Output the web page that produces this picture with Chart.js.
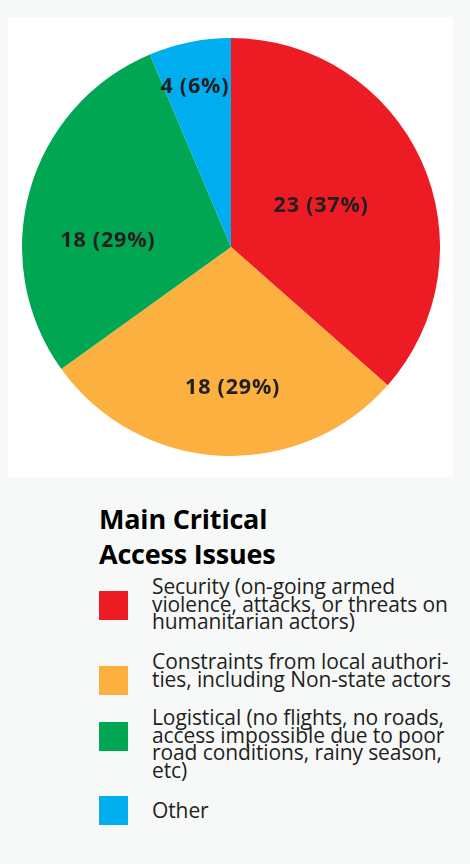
<!DOCTYPE html>
<html>
<head>
<meta charset="utf-8">
<script src="https://cdn.jsdelivr.net/npm/chart.js@4/dist/chart.umd.min.js"></script>
<style>
  html, body { margin: 0; padding: 0; }
  body { width: 470px; height: 864px; background: #f7f9f8; position: relative; overflow: hidden; font-family: "Open Sans", sans-serif; }
  #panel { position: absolute; left: 8px; top: 17px; width: 445px; height: 460px; background: #ffffff; }
  #chart { position: absolute; left: 22px; top: 38px; }
  #legendTitle { position: absolute; left: 99px; top: 501px; font-weight: bold; font-size: 27px; line-height: 35px; color: #000; letter-spacing: -0.2px; white-space: pre; }
  .item { position: absolute; left: 99px; }
  .sw { position: absolute; left: 0; width: 29px; height: 29px; }
  .txt { position: absolute; left: 53px; width: 330px; font-size: 21px; line-height: 17.5px; color: #231f20; white-space: pre; letter-spacing: -0.1px; }
</style>
</head>
<body>
<div id="panel"></div>
<canvas id="chart" width="418" height="418"></canvas>
<div id="legendTitle">Main Critical
Access Issues</div>
<div id="legend"></div>
<script>
const categories = [
  "Security (on-going armed\nviolence, attacks, or threats on\nhumanitarian actors)",
  "Constraints from local authori-\nties, including Non-state actors",
  "Logistical (no flights, no roads,\naccess impossible due to poor\nroad conditions, rainy season,\netc)",
  "Other"
];
const values = [23, 18, 18, 4];
const colors = ["#ed1c24", "#fbb040", "#00a651", "#00aeef"];

// label placement (layout only): fraction of radius and angle nudge in degrees
const labelRadius = [0.473, 0.675, 0.59, 0.785];
const labelNudge = [0, -3.5, -12.9, -1.3];
// legend row layout (square tops)
const rowTops = [591, 666, 722, 796];

const total = values.reduce((a, b) => a + b, 0);

const labelPlugin = {
  id: 'sliceLabels',
  afterDatasetsDraw(chart) {
    const ctx = chart.ctx;
    const meta = chart.getDatasetMeta(0);
    ctx.save();
    ctx.font = 'bold 21.5px "Open Sans", sans-serif';
    if ('letterSpacing' in ctx) ctx.letterSpacing = '0.8px';
    ctx.fillStyle = '#231f20';
    ctx.textAlign = 'center';
    ctx.textBaseline = 'middle';
    meta.data.forEach((arc, i) => {
      const p = arc.getProps(['x', 'y', 'startAngle', 'endAngle', 'outerRadius'], true);
      const mid = (p.startAngle + p.endAngle) / 2 + labelNudge[i] * Math.PI / 180;
      const r = p.outerRadius * labelRadius[i];
      const v = chart.data.datasets[0].data[i];
      const txt = v + ' (' + Math.round(v / total * 100) + '%)';
      ctx.fillText(txt, p.x + Math.cos(mid) * r, p.y + Math.sin(mid) * r);
    });
    ctx.restore();
  }
};

const chart = new Chart(document.getElementById('chart'), {
  type: 'pie',
  data: {
    labels: categories,
    datasets: [{ data: values, backgroundColor: colors, borderWidth: 0 }]
  },
  options: {
    responsive: false,
    animation: false,
    layout: { padding: 0 },
    plugins: { legend: { display: false }, tooltip: { enabled: false } }
  },
  plugins: [labelPlugin]
});

// HTML legend built from the chart's own (pie) legend items
const legendEl = document.getElementById('legend');
const items = Chart.overrides.pie.plugins.legend.labels.generateLabels(chart);
items.forEach((it, i) => {
  const row = document.createElement('div');
  row.className = 'item';
  row.style.top = rowTops[i] + 'px';
  const sw = document.createElement('div');
  sw.className = 'sw';
  sw.style.background = it.fillStyle;
  const tx = document.createElement('div');
  tx.className = 'txt';
  const label = chart.data.labels[it.index];
  tx.textContent = label;
  const nLines = label.split('\n').length;
  tx.style.top = (nLines > 1 ? -13 : 6) + 'px';
  row.appendChild(sw);
  row.appendChild(tx);
  legendEl.appendChild(row);
});
</script>
</body>
</html>
